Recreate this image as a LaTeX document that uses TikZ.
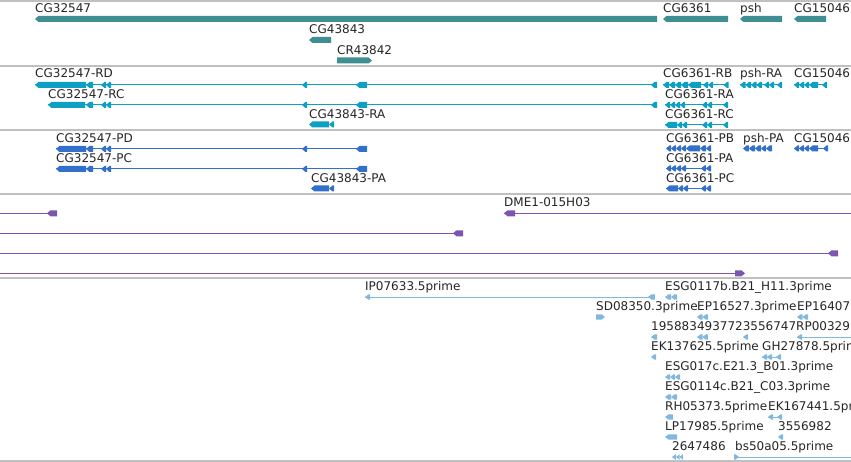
\documentclass[tikz,border=0pt]{standalone}
\usepackage{fontspec}
\setmainfont{DejaVu Sans}
\definecolor{sepc}{RGB}{192,192,192}
\definecolor{genec}{RGB}{63,143,146}
\definecolor{txc}{RGB}{14,160,194}
\definecolor{protc}{RGB}{51,112,204}
\definecolor{purc}{RGB}{122,86,176}
\definecolor{estc}{RGB}{128,184,224}
\newcommand\hh{3}
\newcommand\exL[3]{\fill ({#1},{#3}) -- ({#1+3.5},{#3-\hh}) -- ({#2},{#3-\hh}) -- ({#2},{#3+\hh}) -- ({#1+3.5},{#3+\hh}) -- cycle;}
\newcommand\exR[3]{\fill ({#2},{#3}) -- ({#2-3.5},{#3-\hh}) -- ({#1},{#3-\hh}) -- ({#1},{#3+\hh}) -- ({#2-3.5},{#3+\hh}) -- cycle;}
\newcommand\intr[3]{\draw[intron] ({#1},{#3}) -- ({#2},{#3});}
\newcommand\lbl[4]{\node[lbl] (#1) at (#2,#3) {#4};}
\tikzset{
  lbl/.style={anchor=base west, inner sep=0pt, font=\fontsize{12}{14}\selectfont, text=black!85},
  intron/.style={line width=1pt},
  sep/.style={draw=sepc, line width=1.3pt}
}
\begin{document}
\begin{tikzpicture}[x=1pt,y=-1pt]
\useasboundingbox (0,0) rectangle (851,462);
\clip (0,0) rectangle (851,462);
\fill[white] (0,0) rectangle (851,462);
% separators
\foreach \yy in {1,66,130,194,278,461} {\draw[sep] (0,\yy) -- (851,\yy);}

% ---------- genes ----------
\begin{scope}[color=genec, fill=genec]
\exL{35}{657}{19}
\exL{663}{728}{19}
\exL{740}{782}{19}
\exL{794}{826}{19}
\exL{309}{331}{40}
\exR{337}{372}{60.5}
\end{scope}
\lbl{g1}{35}{13}{CG32547}
\lbl{g2}{663}{13}{CG6361}
\lbl{g3}{740}{13}{psh}
\lbl{g4}{794}{13}{CG15046}
\lbl{g5}{309}{34}{CG43843}
\lbl{g6}{337}{54.5}{CR43842}

% ---------- transcripts ----------
\begin{scope}[color=txc, fill=txc]
% RD
\intr{35}{656}{85}
\exL{35}{86}{85}\exL{86}{93}{85}\exL{101}{106}{85}\exL{106}{111}{85}\exL{302}{307}{85}\exL{356}{367}{85}\exL{651}{657}{85}
% RC
\intr{48}{656}{105}
\exL{48}{85}{105}\exL{86}{93}{105}\exL{101}{106}{105}\exL{106}{111}{105}\exL{302}{307}{105}\exL{356}{367}{105}\exL{651}{657}{105}
% CG43843-RA
\exL{309}{329}{124.5}\exL{329}{334}{124.5}
% CG6361-RB
\intr{663}{728}{85}
\exL{663}{669}{85}\exL{669}{675}{85}\exL{675}{681}{85}\exL{681}{688}{85}\exL{688}{701}{85}\exL{703}{708}{85}\exL{708}{713}{85}\exL{723.5}{728.5}{85}
% psh-RA
\intr{740}{782}{85}
\exL{740}{745.5}{85}\exL{745.5}{751}{85}\exL{751}{756.5}{85}\exL{756.5}{762}{85}\exL{764}{769}{85}\exL{769}{774}{85}\exL{777}{782}{85}
% CG15046
\intr{794}{827}{85}
\exL{794}{799}{85}\exL{799}{804}{85}\exL{804}{809}{85}\exL{809}{818}{85}\exL{822}{827}{85}
% CG6361-RA
\intr{665}{728}{105}
\exL{665}{670}{105}\exL{670}{675}{105}\exL{675}{680}{105}\exL{680}{685}{105}\exL{702}{707}{105}\exL{707}{712}{105}\exL{723}{728}{105}
% CG6361-RC
\intr{665}{728}{125}
\exL{665}{677}{125}\exL{677}{682}{125}\exL{682}{687}{125}\exL{702}{707}{125}\exL{707}{712}{125}\exL{723}{728}{125}
\end{scope}
\lbl{t1}{35}{78}{CG32547-RD}
\lbl{t2}{48}{98.5}{CG32547-RC}
\lbl{t3}{309}{119}{CG43843-RA}
\lbl{t4}{663}{78}{CG6361-RB}
\lbl{t5}{740}{78}{psh-RA}
\lbl{t6}{794}{78}{CG15046}
\lbl{t7}{665}{98.5}{CG6361-RA}
\lbl{t8}{665}{118.5}{CG6361-RC}

% ---------- proteins ----------
\begin{scope}[color=protc, fill=protc]
\intr{56}{367}{149}
\exL{56}{86}{149}\exL{86}{93}{149}\exL{101}{106}{149}\exL{106}{111}{149}\exL{302}{307}{149}\exL{356}{367}{149}
\intr{56}{367}{169}
\exL{56}{86}{169}\exL{86}{93}{169}\exL{101}{106}{169}\exL{106}{111}{169}\exL{302}{307}{169}\exL{356}{367}{169}
\exL{311}{329}{188.5}\exL{329}{334}{188.5}
% CG6361-PB
\exL{666}{671}{148.5}\exL{671}{676}{148.5}\exL{676}{681}{148.5}\exL{681}{686}{148.5}\exL{686}{700}{148.5}\exL{700}{706}{148.5}\exL{706}{711}{148.5}
% psh-PA
\exL{743}{749}{148.5}\exL{749}{755}{148.5}\exL{755}{761}{148.5}\exL{761}{766}{148.5}\exL{766}{772}{148.5}
% CG15046
\intr{794}{828}{148.5}
\exL{794}{799}{148.5}\exL{799}{804}{148.5}\exL{804}{809}{148.5}\exL{809}{818}{148.5}\exL{823}{828}{148.5}
% CG6361-PA
\intr{666}{711}{168.5}
\exL{666}{671}{168.5}\exL{671}{676}{168.5}\exL{676}{681}{168.5}\exL{681}{686}{168.5}\exL{701}{706}{168.5}\exL{706}{711}{168.5}
% CG6361-PC
\intr{666}{711}{188.5}
\exL{666}{678}{188.5}\exL{678}{683}{188.5}\exL{683}{688}{188.5}\exL{701}{706}{188.5}\exL{706}{711}{188.5}
\end{scope}
\lbl{p1}{56}{143}{CG32547-PD}
\lbl{p2}{56}{163}{CG32547-PC}
\lbl{p3}{311}{183}{CG43843-PA}
\lbl{p4}{666}{143}{CG6361-PB}
\lbl{p5}{743}{143}{psh-PA}
\lbl{p6}{794}{143}{CG15046}
\lbl{p7}{666}{163}{CG6361-PA}
\lbl{p8}{666}{183}{CG6361-PC}

% ---------- purple track ----------
\begin{scope}[color=purc, fill=purc]
\intr{0}{50}{213.3}\exL{47}{57}{213.3}
\intr{504}{851}{213.3}\exL{504}{515}{213.3}
\intr{0}{458}{233.3}\exL{453}{463}{233.3}
\intr{0}{833}{253.3}\exL{828}{838}{253.3}
\intr{0}{740}{273.3}\exR{735}{745}{273.3}
\end{scope}
\lbl{d1}{504}{207}{DME1-015H03}

% ---------- EST track ----------
\begin{scope}[color=estc, fill=estc]
\renewcommand\hh{2.7}
\intr{365}{655}{297}\exL{365}{370}{297}\exL{648}{655}{297}
\exL{665}{671}{297}\exL{671}{677}{297}
\exR{596}{605}{317}
\exL{697}{702.5}{317}\exL{702.5}{708}{317}
\exL{797}{802.5}{317}\exL{802.5}{808}{317}
\exL{651}{657}{337}\exL{697}{702.5}{337}\exL{702.5}{708}{337}\exL{743}{748}{337}
\intr{797}{851}{337}\exL{797}{802}{337}
\exL{651}{656}{357}
\intr{762}{781}{357}\exL{762}{767}{357}\exL{767}{772}{357}\exL{776}{781}{357}
\exL{665}{670}{377}\exL{670}{675}{377}\exL{675}{680}{377}
\exL{665}{671}{397}\exL{671}{677}{397}
\exL{665}{673}{417}
\intr{768}{782}{417}\exL{768}{773}{417}\exL{777}{782}{417}
\exL{665}{677}{437}
\exL{778}{783}{437}
\exL{672}{676}{457}\exL{676}{679.5}{457}\exL{679.5}{683}{457}
\intr{734}{851}{457}\exR{734}{739}{457}
\end{scope}
\lbl{e1}{365}{290.5}{IP07633.5prime}
\lbl{e2}{665}{290.5}{ESG0117b.B21\_H11.3prime}
\lbl{e3}{596}{310.5}{SD08350.3prime}
\lbl{e4}{697}{310.5}{EP16527.3prime}
\lbl{e5}{797}{310.5}{EP16407}
\lbl{e6}{651}{330.5}{1958834937723556747}
\lbl{e7}{796}{330.5}{RP00329}
\lbl{e8}{651}{350.5}{EK137625.5prime}
\lbl{e9}{762}{350.5}{GH27878.5prime}
\lbl{e10}{665}{370.5}{ESG017c.E21.3\_B01.3prime}
\lbl{e11}{665}{390.5}{ESG0114c.B21\_C03.3prime}
\lbl{e12}{665}{410.5}{RH05373.5prime}
\lbl{e13}{768}{410.5}{EK167441.5prime}
\lbl{e14}{665}{430.5}{LP17985.5prime}
\lbl{e15}{778}{430.5}{3556982}
\lbl{e16}{672}{450.5}{2647486}
\lbl{e17}{735}{450.5}{bs50a05.5prime}
\end{tikzpicture}
\end{document}
